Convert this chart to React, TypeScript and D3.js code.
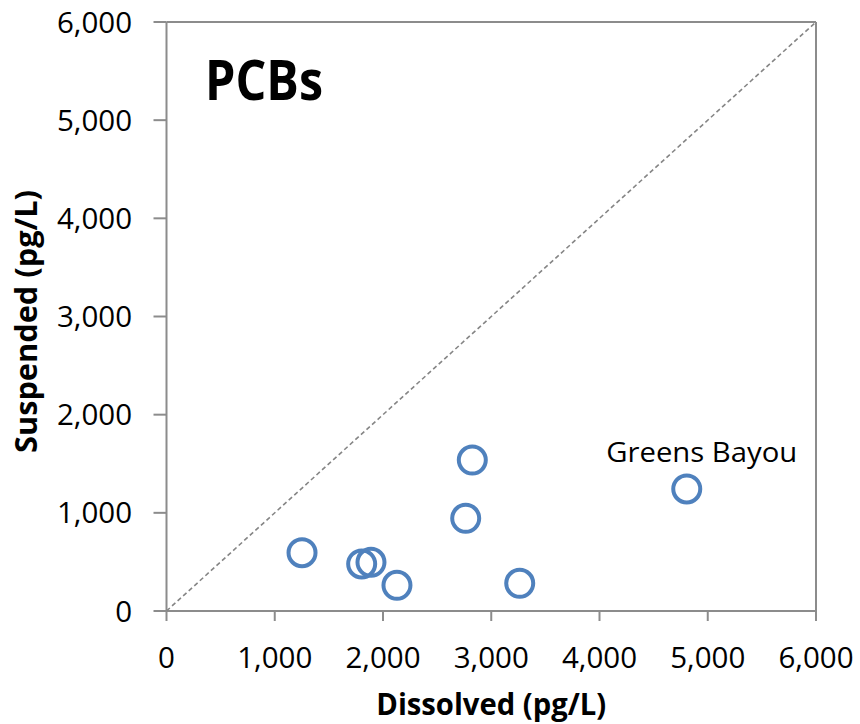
import React from "react";
import * as d3 from "d3";

// PCB concentrations per site: dissolved vs. suspended phase (pg/L)
const dissolved = [1252, 1803, 1889, 2129, 2825, 2764, 3263, 4806];
const suspended = [594, 479, 496, 262, 1538, 944, 282, 1243];
const siteLabels = ["", "", "", "", "", "", "", "Greens Bayou"];
const tickValues = [0, 1000, 2000, 3000, 4000, 5000, 6000];

const W = 860;
const H = 724;
const left = 166.5;
const right = 816;
const top = 22;
const bottom = 611;
const axisColor = "#8c8c8c";
const font = "'Open Sans', sans-serif";

export default function App() {
  const x = d3.scaleLinear().domain([0, 6000]).range([left, right]);
  const y = d3.scaleLinear().domain([0, 6000]).range([bottom, top]);
  const fmt = d3.format(",");
  const diag = d3.line<number>().x((v) => x(v)).y((v) => y(v));

  return (
    <svg
      width={W}
      height={H}
      style={{ position: "absolute", left: 0, top: 0, background: "#fff" }}
      fontFamily={font}
    >
      {/* plot frame */}
      <line x1={left} x2={right} y1={y(6000)} y2={y(6000)} stroke={axisColor} strokeWidth={2} />
      <line x1={x(6000)} x2={x(6000)} y1={top} y2={bottom} stroke={axisColor} strokeWidth={2} />
      <line x1={left} x2={right} y1={bottom} y2={bottom} stroke={axisColor} strokeWidth={2} />
      <line x1={left} x2={left} y1={top} y2={bottom} stroke={axisColor} strokeWidth={2} />

      {/* 1:1 reference line */}
      <path d={diag([0, 6000]) ?? ""} fill="none" stroke="#858585" strokeWidth={1.6} strokeDasharray="4.5,3" />

      {/* x axis ticks and labels */}
      {tickValues.map((t) => (
        <g key={"x" + t}>
          <line x1={x(t)} x2={x(t)} y1={bottom} y2={bottom + 10} stroke={axisColor} strokeWidth={2} />
          <text x={x(t)} y={668} textAnchor="middle" fontSize={29.5} fill="#000">
            {fmt(t)}
          </text>
        </g>
      ))}

      {/* y axis ticks and labels */}
      {tickValues.map((t) => (
        <g key={"y" + t}>
          <line x1={left - 13} x2={left} y1={y(t)} y2={y(t)} stroke={axisColor} strokeWidth={2} />
          <text x={132} y={y(t)} dy="0.36em" textAnchor="end" fontSize={29.5} fill="#000">
            {fmt(t)}
          </text>
        </g>
      ))}

      {/* axis titles */}
      <text
        x={(left + right) / 2}
        y={715}
        textAnchor="middle"
        fontSize={29.5}
        fontWeight="bold"
        fill="#000"
        textLength={230}
        lengthAdjust="spacingAndGlyphs"
      >
        Dissolved (pg/L)
      </text>
      <text
        transform={`translate(37,321.5) rotate(-90)`}
        textAnchor="middle"
        fontSize={29.5}
        fontWeight="bold"
        fill="#000"
        textLength={263}
        lengthAdjust="spacingAndGlyphs"
      >
        Suspended (pg/L)
      </text>

      {/* panel title */}
      <text
        x={205}
        y={100}
        fontSize={56}
        fontWeight="bold"
        fill="#000"
        textLength={118}
        lengthAdjust="spacingAndGlyphs"
      >
        PCBs
      </text>

      {/* site markers */}
      {dissolved.map((d, i) => (
        <circle
          key={"p" + i}
          cx={x(d)}
          cy={y(suspended[i])}
          r={13.5}
          fill="none"
          stroke="#4f81bd"
          strokeWidth={4}
        />
      ))}

      {/* site labels */}
      {dissolved.map((d, i) =>
        siteLabels[i] ? (
          <text
            key={"l" + i}
            x={x(d) + 15}
            y={y(suspended[i]) - 27}
            textAnchor="middle"
            fontSize={28}
            fill="#000"
            textLength={191}
            lengthAdjust="spacingAndGlyphs"
          >
            {siteLabels[i]}
          </text>
        ) : null
      )}
    </svg>
  );
}
